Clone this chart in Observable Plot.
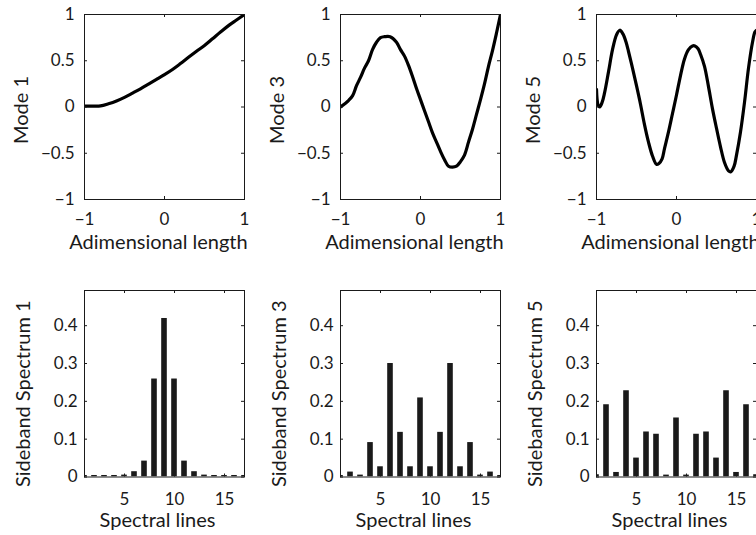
<!DOCTYPE html>
<html>
<head>
<meta charset="utf-8">
<script src="https://cdn.jsdelivr.net/npm/d3@7"></script>
<script src="https://cdn.jsdelivr.net/npm/@observablehq/plot@0.6"></script>
<style>
html, body { margin: 0; padding: 0; background: #fff; overflow: hidden; }
#fig { position: relative; width: 756px; height: 535px; overflow: hidden; background: #fff; }
</style>
</head>
<body>
<div id="fig"></div>
<script>
// ---------- data ----------
const modeLabels = ["Mode 1", "Mode 3", "Mode 5"];
const spectrumLabels = ["Sideband Spectrum 1", "Sideband Spectrum 3", "Sideband Spectrum 5"];
const xLabelTop = "Adimensional length";
const xLabelBottom = "Spectral lines";

const topXTicks = [-1, 0, 1];
const topYTicks = [-1, -0.5, 0, 0.5, 1];
const bottomXTicks = [5, 10, 15];
const bottomYTicks = [0, 0.1, 0.2, 0.3, 0.4];

const mode1X = [-1, -0.9, -0.8, -0.7, -0.6, -0.5, -0.4, -0.3, -0.2, -0.1, 0, 0.1, 0.2, 0.3, 0.4, 0.5, 0.6, 0.7, 0.8, 0.9, 1];
const mode1Y = [0.01, 0.01, 0.012, 0.035, 0.065, 0.104, 0.15, 0.197, 0.247, 0.298, 0.35, 0.406, 0.47, 0.537, 0.602, 0.665, 0.737, 0.81, 0.88, 0.94, 1.0];

const mode3X = [-1, -0.9, -0.85, -0.8, -0.75, -0.7, -0.65, -0.6, -0.55, -0.5, -0.45, -0.38, -0.3, -0.25, -0.2, -0.15, -0.1, -0.05, 0, 0.05, 0.1, 0.15, 0.2, 0.25, 0.3, 0.35, 0.4, 0.45, 0.5, 0.55, 0.6, 0.65, 0.7, 0.75, 0.8, 0.85, 0.9, 0.95, 1];
const mode3Y = [0.0, 0.07, 0.12, 0.23, 0.32, 0.42, 0.5, 0.62, 0.7, 0.75, 0.76, 0.76, 0.7, 0.62, 0.55, 0.45, 0.33, 0.2, 0.08, -0.04, -0.16, -0.28, -0.38, -0.48, -0.57, -0.64, -0.65, -0.64, -0.59, -0.52, -0.38, -0.24, -0.08, 0.08, 0.25, 0.44, 0.61, 0.8, 1.0];

const mode5X = [-1, -0.98, -0.96, -0.93, -0.9, -0.85, -0.8, -0.75, -0.71, -0.67, -0.63, -0.6, -0.55, -0.5, -0.45, -0.4, -0.35, -0.3, -0.25, -0.22, -0.18, -0.15, -0.1, -0.05, 0, 0.05, 0.1, 0.15, 0.2, 0.23, 0.27, 0.3, 0.35, 0.4, 0.45, 0.5, 0.55, 0.6, 0.65, 0.68, 0.72, 0.75, 0.8, 0.85, 0.9, 0.95, 0.98, 1];
const mode5Y = [0.19, 0.02, 0.0, 0.05, 0.15, 0.38, 0.62, 0.78, 0.83, 0.79, 0.7, 0.6, 0.42, 0.23, 0.03, -0.19, -0.38, -0.53, -0.62, -0.61, -0.56, -0.45, -0.27, -0.07, 0.13, 0.34, 0.52, 0.62, 0.66, 0.66, 0.63, 0.57, 0.44, 0.22, -0.02, -0.23, -0.43, -0.6, -0.69, -0.7, -0.64, -0.52, -0.27, 0.05, 0.42, 0.7, 0.81, 0.83];

const spectralLines = [1, 2, 3, 4, 5, 6, 7, 8, 9, 10, 11, 12, 13, 14, 15, 16, 17];
const spectrum1 = [0.004, 0.004, 0.004, 0.004, 0.005, 0.014, 0.042, 0.259, 0.419, 0.259, 0.042, 0.014, 0.005, 0.004, 0.004, 0.004, 0.004];
const spectrum3 = [0.004, 0.013, 0.005, 0.091, 0.027, 0.300, 0.118, 0.027, 0.209, 0.027, 0.118, 0.300, 0.027, 0.091, 0.005, 0.013, 0.004];
const spectrum5 = [0.006, 0.191, 0.012, 0.228, 0.050, 0.119, 0.113, 0.005, 0.156, 0.005, 0.113, 0.119, 0.050, 0.228, 0.012, 0.191, 0.006];

// ---------- drawing ----------
const INK = "#1a1a1a";
const fig = document.getElementById("fig");
const baseStyle = {fontFamily: "Lato, 'DejaVu Sans', sans-serif", fontSize: "17px", color: INK, background: "transparent", overflow: "visible"};
const labelSize = 20;
const fmt = d => (d < 0 ? "\u2212" : "") + String(Math.abs(d));

function place(svg, left, top) {
  svg.style.position = "absolute";
  svg.style.left = left + "px";
  svg.style.top = top + "px";
  fig.appendChild(svg);
}

function boxTicks(xTicks, yTicks, fw, fh) {
  const t = 3;
  return [
    Plot.tickY(yTicks, {y: d => d, insetRight: fw - t, stroke: INK}),
    Plot.tickY(yTicks, {y: d => d, insetLeft: fw - t, stroke: INK}),
    Plot.tickX(xTicks, {x: d => d, insetTop: fh - t, stroke: INK}),
    Plot.tickX(xTicks, {x: d => d, insetBottom: fh - t, stroke: INK})
  ];
}

function modePlot(xs, ys, label) {
  const W = 256, H = 265, mL = 84, mR = 12, mT = 14, mB = 66;
  const fw = W - mL - mR, fh = H - mT - mB;
  const data = xs.map((x, i) => ({x, y: ys[i]}));
  return Plot.plot({
    width: W, height: H,
    marginLeft: mL, marginRight: mR, marginTop: mT, marginBottom: mB,
    style: baseStyle,
    x: {domain: [-1, 1]},
    y: {domain: [-1, 1]},
    marks: [
      Plot.line(data, {x: "x", y: "y", stroke: "#000", strokeWidth: 3.2, curve: "catmull-rom", clip: true}),
      Plot.frame({stroke: INK, strokeWidth: 1}),
      ...boxTicks(topXTicks, topYTicks, fw, fh),
      Plot.axisX(topXTicks, {tickSize: 0, tickPadding: 13, label: null, tickFormat: fmt}),
      Plot.axisY(topYTicks, {tickSize: 0, tickPadding: 10, label: null, tickFormat: fmt}),
      Plot.text([xLabelTop], {text: d => d, frameAnchor: "bottom", textAnchor: "middle", lineAnchor: "middle", dy: 43, dx: -6, fontSize: labelSize, fill: INK}),
      Plot.text([label], {text: d => d, frameAnchor: "left", rotate: -90, textAnchor: "middle", lineAnchor: "middle", dx: -63, dy: 3, fontSize: labelSize, fill: INK})
    ]
  });
}

function spectrumPlot(values, label) {
  const W = 256, H = 270, mL = 84, mR = 12, mT = 25, mB = 58.5;
  const fw = W - mL - mR, fh = H - mT - mB;
  const data = spectralLines.map((line, i) => ({line, value: values[i]}));
  return Plot.plot({
    width: W, height: H,
    marginLeft: mL, marginRight: mR, marginTop: mT, marginBottom: mB,
    style: baseStyle,
    x: {domain: [1, 17]},
    y: {domain: [0, 0.493]},
    marks: [
      Plot.rectY(data, {x1: d => d.line - 0.28, x2: d => d.line + 0.28, y: "value", fill: INK, clip: true}),
      Plot.frame({stroke: INK, strokeWidth: 1}),
      ...boxTicks(bottomXTicks, bottomYTicks, fw, fh),
      Plot.axisX(bottomXTicks, {tickSize: 0, tickPadding: 16, label: null, tickFormat: fmt}),
      Plot.axisY(bottomYTicks, {tickSize: 0, tickPadding: 7, label: null, tickFormat: fmt}),
      Plot.text([xLabelBottom], {text: d => d, frameAnchor: "bottom", textAnchor: "middle", lineAnchor: "middle", dy: 44, dx: -7, fontSize: labelSize, fill: INK}),
      Plot.text([label], {text: d => d, frameAnchor: "left", rotate: -90, textAnchor: "middle", lineAnchor: "middle", dx: -61, dy: 10, fontSize: labelSize, fill: INK})
    ]
  });
}

const modes = [[mode1X, mode1Y], [mode3X, mode3Y], [mode5X, mode5Y]];
const spectra = [spectrum1, spectrum3, spectrum5];
for (let c = 0; c < 3; ++c) {
  place(modePlot(modes[c][0], modes[c][1], modeLabels[c]), 256 * c, 0);
  place(spectrumPlot(spectra[c], spectrumLabels[c]), 256 * c, 265);
}
</script>
</body>
</html>
